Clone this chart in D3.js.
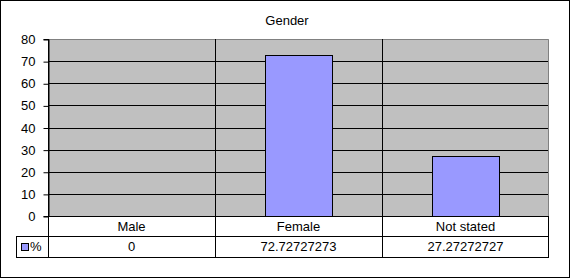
<!DOCTYPE html>
<html>
<head>
<meta charset="utf-8">
<script src="https://cdn.jsdelivr.net/npm/d3@7"></script>
<style>
  body { margin: 0; background: #fff; }
  svg { display: block; font-family: "Liberation Sans", Arial, sans-serif; }
</style>
</head>
<body>
<svg id="chart" width="572" height="280"></svg>
<script>
const title = 'Gender';
const categories = ['Male', 'Female', 'Not stated'];
const values = [0, 72.72727273, 27.27272727];
const valueLabels = ['0', '72.72727273', '27.27272727'];
const seriesName = '%';
const yTicks = [0, 10, 20, 30, 40, 50, 60, 70, 80];

const svg = d3.select('#chart');

const plot = { left: 48, right: 549, top: 39, bottom: 216 };
const rowH = [20, 21];

const x = d3.scaleBand()
    .domain(categories)
    .range([plot.left, plot.right])
    .paddingInner(0)
    .paddingOuter(0);

const y = d3.scaleLinear()
    .domain([0, 80])
    .range([plot.bottom, plot.top]);

// outer frame
svg.append('rect')
    .attr('x', 0.5).attr('y', 0.5)
    .attr('width', 569).attr('height', 277)
    .attr('fill', '#fff')
    .attr('stroke', '#000');

svg.append('text')
    .attr('x', 287)
    .attr('y', 25)
    .attr('text-anchor', 'middle')
    .attr('font-size', 13)
    .text(title);

// plot background
svg.append('rect')
    .attr('x', plot.left).attr('y', plot.top)
    .attr('width', plot.right - plot.left)
    .attr('height', plot.bottom - plot.top)
    .attr('fill', '#c0c0c0');

// gridlines
svg.append('g')
    .selectAll('line')
    .data(yTicks.filter(d => d > 0 && d < 80))
    .join('line')
    .attr('x1', plot.left).attr('x2', plot.right)
    .attr('y1', d => Math.round(y(d)) + 0.5)
    .attr('y2', d => Math.round(y(d)) + 0.5)
    .attr('stroke', '#000');

// top and right border (grey)
svg.append('path')
    .attr('d', `M${plot.left},${plot.top + 0.5}H${plot.right - 0.5}V${plot.bottom}`)
    .attr('fill', 'none')
    .attr('stroke', '#808080');

// bars
const barW = x.bandwidth() * 0.4;
svg.append('g')
    .selectAll('rect')
    .data(categories.map((c, i) => ({ c, v: values[i] })).filter(d => d.v > 0))
    .join('rect')
    .attr('x', d => Math.round(x(d.c) + (x.bandwidth() - barW) / 2) + 0.5)
    .attr('y', d => Math.round(y(d.v)) + 0.5)
    .attr('width', Math.round(barW))
    .attr('height', d => plot.bottom - Math.round(y(d.v)))
    .attr('fill', '#9999ff')
    .attr('stroke', '#000');

// y axis
const yAxis = d3.axisLeft(y)
    .tickValues(yTicks)
    .tickSize(5)
    .tickPadding(8)
    .tickFormat(d3.format('d'));

const gy = svg.append('g')
    .attr('transform', `translate(${plot.left + 0.5},0)`)
    .call(yAxis);
gy.select('.domain').attr('stroke', '#000');
gy.selectAll('.tick line').attr('stroke', '#000')
    .attr('transform', 'translate(0,0.5)');
gy.selectAll('.tick text')
    .attr('font-size', 13)
    .attr('font-family', '"Liberation Sans", Arial, sans-serif')
    .attr('fill', '#000')
    .attr('dy', '0.35em');

// data table
const tTop = plot.bottom;
const tMid = tTop + rowH[0];
const tBot = tMid + rowH[1];
const legendLeft = 16;

const table = svg.append('g').attr('stroke', '#000').attr('fill', 'none');
table.append('line')
    .attr('x1', plot.left).attr('x2', plot.right)
    .attr('y1', tTop + 0.5).attr('y2', tTop + 0.5);
table.append('line')
    .attr('x1', legendLeft).attr('x2', plot.right)
    .attr('y1', tMid + 0.5).attr('y2', tMid + 0.5);
table.append('line')
    .attr('x1', legendLeft).attr('x2', plot.right)
    .attr('y1', tBot + 0.5).attr('y2', tBot + 0.5);
table.append('line')
    .attr('x1', legendLeft + 0.5).attr('x2', legendLeft + 0.5)
    .attr('y1', tMid).attr('y2', tBot + 1);

// column dividers (through plot and table)
const dividers = categories.map(c => x(c)).concat([plot.right - 1]);
table.selectAll('.div')
    .data(dividers)
    .join('line')
    .attr('x1', d => Math.round(d) + 0.5).attr('x2', d => Math.round(d) + 0.5)
    .attr('y1', (d, i) => i === dividers.length - 1 ? plot.bottom : plot.top)
    .attr('y2', tBot + 1);

svg.append('g')
    .selectAll('text')
    .data(categories)
    .join('text')
    .attr('x', d => x(d) + x.bandwidth() / 2)
    .attr('y', tTop + 15)
    .attr('text-anchor', 'middle')
    .attr('font-size', 13)
    .text(d => d);

svg.append('g')
    .selectAll('text')
    .data(categories)
    .join('text')
    .attr('x', d => x(d) + x.bandwidth() / 2)
    .attr('y', tMid + 15)
    .attr('text-anchor', 'middle')
    .attr('font-size', 13)
    .text((d, i) => valueLabels[i]);

// legend key
svg.append('rect')
    .attr('x', 21.5).attr('y', 243.5)
    .attr('width', 7).attr('height', 7)
    .attr('fill', '#9999ff')
    .attr('stroke', '#000');
svg.append('text')
    .attr('x', 30)
    .attr('y', tMid + 15)
    .attr('font-size', 13)
    .text(seriesName);
</script>
</body>
</html>
